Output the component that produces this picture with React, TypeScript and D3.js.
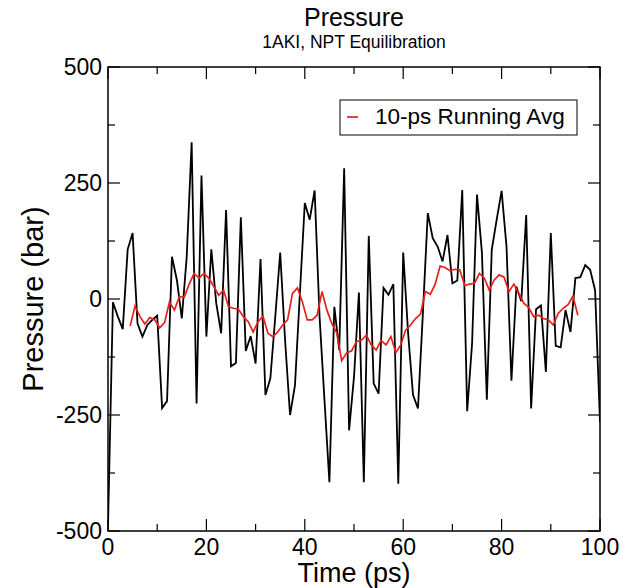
import React from "react";
import * as d3 from "d3";

const timePs: number[] = d3.range(0, 101);
const pressure: number[] = [
  -490, -7, -38, -65, 107, 142, -53, -81, -56, -45,
  -36, -235, -220, 91, 41, -42, 91, 338, -225, 266,
  -81, 107, -9, -74, 192, -145, -138, 176, -112, -80,
  -139, 86, -207, -171, -38, 100, -90, -250, -186, 12,
  207, 171, 234, -38, -218, -395, -17, -110, 282, -283,
  -168, 14, -395, 136, -182, -204, 24, 9, 32, -398,
  100, -74, -207, -236, -31, 185, 131, 113, 81, 138,
  34, 40, 235, -242, -96, 225, 100, -217, 106, 171,
  233, 113, -176, 27, -5, 181, -236, -22, -14, -157,
  142, -101, -104, -24, -71, 45, 47, 73, 63, 19,
  -265,
];
const avgTime: number[] = d3.range(4.5, 96, 1);
const runningAvg: number[] = [
  -58, -15, -38, -54, -40, -45, -62, -51, -6, -24,
  5, 4, 32, 55, 45, 55, 45, 27, 8, 19,
  -17, -20, -22, -38, -49, -71, -49, -37, -74, -81,
  -71, -56, -45, 12, 24, -6, -45, -45, -35, 16,
  -24, -53, -73, -133, -116, -112, -92, -89, -78, -99,
  -110, -89, -99, -81, -116, -99, -67, -56, -42, -33,
  16, 10, 32, 71, 68, 61, 64, 63, 29, 32,
  34, 55, 45, 19, 41, 52, 47, 16, 32, 12,
  -9, -18, -38, -35, -42, -45, -56, -31, -20, -12,
  6, -35,
];
const xTicks: number[] = [0, 20, 40, 60, 80, 100];
const xMinor: number[] = [10, 30, 50, 70, 90];
const yTicks: number[] = [-500, -250, 0, 250, 500];
const yMinor: number[] = [-375, -125, 125, 375];

const FONT = "'Liberation Sans', Arial, Helvetica, sans-serif";

export default function App() {
  const W = 622, H = 588;
  const L = 108, R = 600, T = 67, B = 531;
  const x = d3.scaleLinear().domain([0, 100]).range([L, R]);
  const y = d3.scaleLinear().domain([-500, 500]).range([B, T]);
  const line = d3.line<[number, number]>().x(d => x(d[0])).y(d => y(d[1]));
  const blackPts: [number, number][] = timePs.map((t, i) => [t, pressure[i]]);
  const redPts: [number, number][] = avgTime.map((t, i) => [t, runningAvg[i]]);
  const major = 12, minor = 7;
  return (
    <svg width={W} height={H} style={{ position: "absolute", left: 0, top: 0, background: "#fff" }} fontFamily={FONT}>
      <defs>
        <clipPath id="plot">
          <rect x={L} y={T} width={R - L} height={B - T} />
        </clipPath>
      </defs>
      <text x={(L + R) / 2} y={26} textAnchor="middle" fontSize={25}>Pressure</text>
      <text x={(L + R) / 2} y={48} textAnchor="middle" fontSize={17.5}>1AKI, NPT Equilibration</text>
      <g clipPath="url(#plot)">
        <path d={line(blackPts) || ""} fill="none" stroke="#000" strokeWidth={1.8} strokeLinejoin="miter" />
        <path d={line(redPts) || ""} fill="none" stroke="#e8201c" strokeWidth={1.7} />
      </g>
      <rect x={L} y={T} width={R - L} height={B - T} fill="none" stroke="#000" strokeWidth={1.5} />
      {xTicks.map(t => (
        <g key={"xt" + t}>
          <line x1={x(t)} x2={x(t)} y1={B} y2={B - major} stroke="#000" strokeWidth={1.2} />
          <line x1={x(t)} x2={x(t)} y1={T} y2={T + major} stroke="#000" strokeWidth={1.2} />
          <text x={x(t)} y={555} textAnchor="middle" fontSize={23}>{t}</text>
        </g>
      ))}
      {xMinor.map(t => (
        <g key={"xm" + t}>
          <line x1={x(t)} x2={x(t)} y1={B} y2={B - minor} stroke="#000" strokeWidth={1.2} />
          <line x1={x(t)} x2={x(t)} y1={T} y2={T + minor} stroke="#000" strokeWidth={1.2} />
        </g>
      ))}
      {yTicks.map(v => (
        <g key={"yt" + v}>
          <line x1={L} x2={L + major} y1={y(v)} y2={y(v)} stroke="#000" strokeWidth={1.2} />
          <line x1={R} x2={R - major} y1={y(v)} y2={y(v)} stroke="#000" strokeWidth={1.2} />
          <text x={102} y={y(v) + 8} textAnchor="end" fontSize={23}>{v}</text>
        </g>
      ))}
      {yMinor.map(v => (
        <g key={"ym" + v}>
          <line x1={L} x2={L + minor} y1={y(v)} y2={y(v)} stroke="#000" strokeWidth={1.2} />
          <line x1={R} x2={R - minor} y1={y(v)} y2={y(v)} stroke="#000" strokeWidth={1.2} />
        </g>
      ))}
      <text x={(L + R) / 2} y={582} textAnchor="middle" fontSize={27}>Time (ps)</text>
      <text transform={`translate(43, ${(T + B) / 2}) rotate(-90)`} textAnchor="middle" fontSize={29}>Pressure (bar)</text>
      <g>
        <rect x={340} y={100} width={237} height={35} fill="#fff" stroke="#000" strokeWidth={1} />
        <line x1={347} x2={358} y1={117} y2={117} stroke="#e8201c" strokeWidth={1.7} />
        <text x={375} y={124} fontSize={22.5}>10-ps Running Avg</text>
      </g>
    </svg>
  );
}
